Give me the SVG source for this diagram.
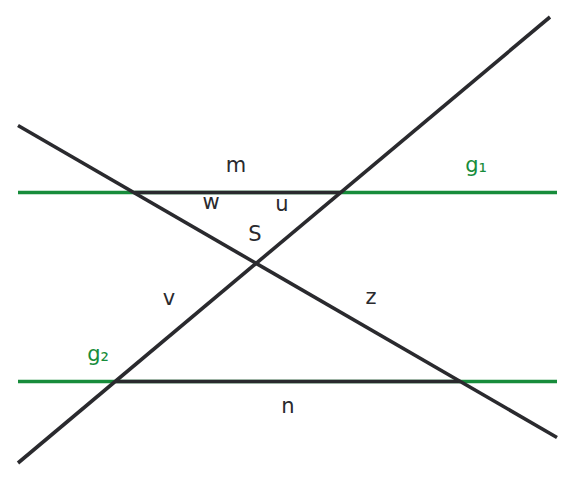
<svg xmlns="http://www.w3.org/2000/svg" width="576" height="490" viewBox="0 0 576 490">
<style>
.g{stroke:#178c3b;stroke-width:3.6;fill:none}
.d{stroke:#2a2a2e;stroke-width:3.6;fill:none}
text{font-family:"DejaVu Sans",sans-serif;font-size:21px;text-anchor:middle;dominant-baseline:central;paint-order:stroke;stroke:#fff;stroke-width:3px}
.lb{fill:#2a2a2e}
.lg{fill:#178c3b}
</style>
<rect width="576" height="490" fill="#fff"/>
<g id="connectors">
<line id="g1" class="g" x1="18" y1="192.5" x2="557" y2="192.5"/>
<line id="g2" class="g" x1="18" y1="381.5" x2="557" y2="381.5"/>
<line id="m" class="d" x1="134.6" y1="192.5" x2="340.7" y2="192.5"/>
<line id="n" class="d" x1="115.8" y1="381.5" x2="460" y2="381.5"/>
<line id="line1" class="d" x1="18" y1="125.5" x2="557" y2="437.5"/>
<line id="line2" class="d" x1="18" y1="463" x2="550" y2="17"/>
</g>
<g id="labels">
<text id="lm" class="lb" x="236" y="165">m</text>
<text id="lw" class="lb" x="211" y="202">w</text>
<text id="lu" class="lb" x="282" y="204">u</text>
<text id="lS" class="lb" x="255" y="234">S</text>
<text id="lv" class="lb" x="169" y="298">v</text>
<text id="lz" class="lb" x="371" y="297">z</text>
<text id="ln" class="lb" x="288" y="406">n</text>
<text id="lg1" class="lg" x="476" y="165">g₁</text>
<text id="lg2" class="lg" x="98" y="354">g₂</text>
</g>
</svg>
